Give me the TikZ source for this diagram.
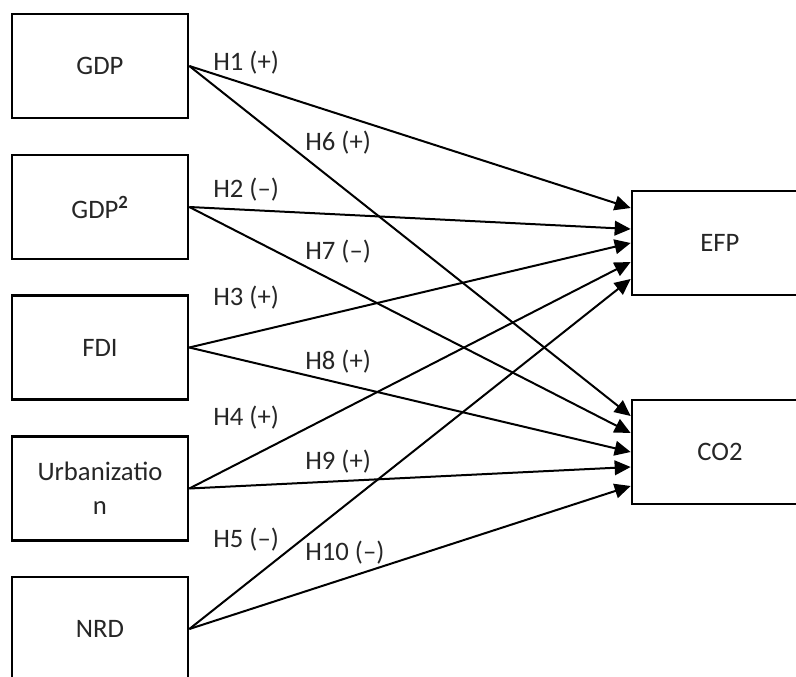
\documentclass[tikz,border=0pt]{standalone}
\usepackage{fontspec}
\setmainfont{Carlito}
\usetikzlibrary{arrows.meta,calc,positioning}

\tikzset{
  var/.style={draw, line width=2pt, minimum width=132pt, minimum height=78pt,
    inner sep=2pt, align=center, text=black!85},
  link/.style={line width=1.5pt, -{Triangle[length=12pt,width=11pt]}},
  hyp/.style={anchor=west, inner sep=0pt, text=black!85}
}

\begin{document}
\begin{tikzpicture}[x=0.75pt,y=-0.75pt,font=\fontsize{20}{25.5}\selectfont]
  \useasboundingbox (0,0) rectangle (796,677);
  \clip (0,0) rectangle (796,677);
  % predictors
  \node[var] (gdp)   at (100,66)    {GDP};
  \node[var] (gdpsq) at (100,207)   {GDP\textsuperscript{\textbf{2}}};
  \node[var] (fdi)   at (100,347.5) {FDI};
  \node[var] (urb)   at (100,488.5) {Urbanizatio\\n};
  \node[var] (nrd)   at (100,629)   {NRD};
  % outcomes
  \node[var] (efp) at (720,243) {EFP};
  \node[var] (co2) at (720,452) {CO2};
  % paths
  \foreach \src/\dy in {gdp/-35, gdpsq/-14, fdi/0, urb/19, nrd/36}
    \draw[link] (\src.east) -- ($(efp.west)+(0,\dy)$);
  \foreach \src/\dy in {gdp/-36, gdpsq/-19, fdi/0, urb/15, nrd/34}
    \draw[link] (\src.east) -- ($(co2.west)+(0,\dy)$);
  % hypotheses
  \node[hyp] (h1)  at (213,63)  {H1 (+)};
  \node[hyp] (h2)  at (213,190) {H2 (–)};
  \node[hyp] (h3)  at (213,298) {H3 (+)};
  \node[hyp] (h4)  at (213,418) {H4 (+)};
  \node[hyp] (h5)  at (213,540) {H5 (–)};
  \node[hyp] (h6)  at (305,143) {H6 (+)};
  \node[hyp] (h7)  at (305,252) {H7 (–)};
  \node[hyp] (h8)  at (305,362) {H8 (+)};
  \node[hyp] (h9)  at (305,462) {H9 (+)};
  \node[hyp] (h10) at (305,553) {H10 (–)};
\end{tikzpicture}
\end{document}
